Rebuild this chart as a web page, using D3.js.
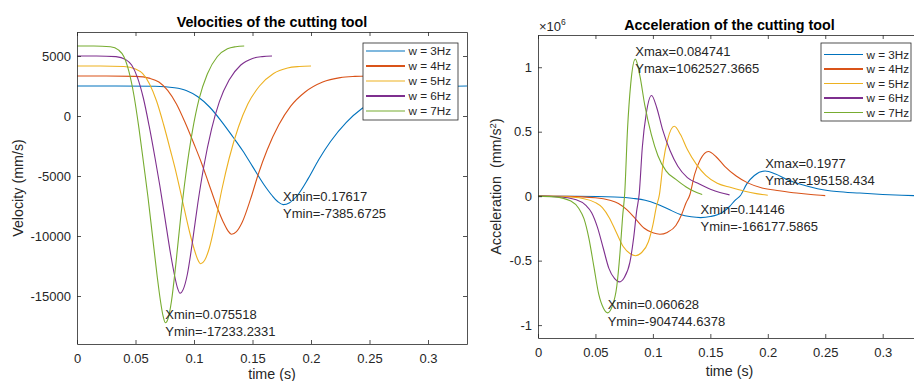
<!DOCTYPE html>
<html>
<head>
<meta charset="utf-8">
<script src="https://cdn.jsdelivr.net/npm/d3@7"></script>
<style>
body { margin: 0; background: #fff; }
svg { font-family: "Liberation Sans", Arial, sans-serif; display: block; }
</style>
</head>
<body>
<svg id="my_svg"></svg>
<script>
const width = 914;
const height = 381;

const seriesNames = ['w = 3Hz', 'w = 4Hz', 'w = 5Hz', 'w = 6Hz', 'w = 7Hz'];
const colors = ['#0072BD', '#D95319', '#EDB120', '#7E2F8E', '#77AC30'];

// time samples (s), one list per frequency
const time3 = [0, 0.0333, 0.0667, 0.0833, 0.0933, 0.1033, 0.1133, 0.1233, 0.1333, 0.1415, 0.15, 0.16, 0.1667, 0.1717, 0.1762, 0.1817, 0.1883, 0.1977, 0.2067, 0.2167, 0.23, 0.2433, 0.26, 0.28, 0.3, 0.3167, 0.3333];
const time4 = [0, 0.025, 0.05, 0.0625, 0.07, 0.0775, 0.085, 0.0925, 0.1, 0.1061, 0.1125, 0.12, 0.125, 0.1288, 0.1321, 0.1363, 0.1413, 0.1483, 0.155, 0.1625, 0.1725, 0.1825, 0.195, 0.21, 0.225, 0.2375, 0.25];
const time5 = [0, 0.02, 0.04, 0.05, 0.056, 0.062, 0.068, 0.074, 0.08, 0.0849, 0.09, 0.096, 0.1, 0.103, 0.1057, 0.109, 0.113, 0.1186, 0.124, 0.13, 0.138, 0.146, 0.156, 0.168, 0.18, 0.19, 0.2];
const time6 = [0, 0.0167, 0.0333, 0.0417, 0.0467, 0.0517, 0.0567, 0.0617, 0.0667, 0.0707, 0.075, 0.08, 0.0833, 0.0858, 0.0881, 0.0908, 0.0942, 0.0988, 0.1033, 0.1083, 0.115, 0.1217, 0.13, 0.14, 0.15, 0.1583, 0.1667];
const time7 = [0, 0.0143, 0.0286, 0.0357, 0.04, 0.0443, 0.0486, 0.0529, 0.0571, 0.0606, 0.0643, 0.0686, 0.0714, 0.0736, 0.0755, 0.0779, 0.0807, 0.0847, 0.0886, 0.0929, 0.0986, 0.1043, 0.1114, 0.12, 0.1286, 0.1357, 0.1429];

// velocity (mm/s)
const vel3 = [2500, 2500, 2475, 2350, 2125, 1600, 750, -425, -1750, -2875, -4200, -5750, -6625, -7150, -7386, -7225, -6625, -5200, -3625, -2125, -550, 600, 1500, 2125, 2400, 2475, 2500];
const vel4 = [3333, 3333, 3300, 3133, 2833, 2133, 1000, -567, -2333, -3833, -5600, -7667, -8833, -9533, -9848, -9633, -8833, -6933, -4833, -2833, -733, 800, 2000, 2833, 3200, 3300, 3333];
const vel5 = [4167, 4167, 4125, 3917, 3542, 2667, 1250, -708, -2917, -4792, -7000, -9583, -11042, -11917, -12309, -12042, -11042, -8667, -6042, -3542, -917, 1000, 2500, 3542, 4000, 4125, 4167];
const vel6 = [5000, 5000, 4950, 4700, 4250, 3200, 1500, -850, -3500, -5750, -8400, -11500, -13250, -14300, -14771, -14450, -13250, -10400, -7250, -4250, -1100, 1200, 3000, 4250, 4800, 4950, 5000];
const vel7 = [5833, 5833, 5775, 5483, 4958, 3733, 1750, -992, -4083, -6708, -9800, -13417, -15458, -16683, -17233, -16858, -15458, -12133, -8458, -4958, -1283, 1400, 3500, 4958, 5600, 5775, 5833];

// acceleration (mm/s^2)
const acc3 = [0, -1000, -7000, -18000, -32000, -60000, -100000, -140000, -160000, -166178, -158000, -128000, -80000, -30000, 5000, 95000, 160000, 195158, 172000, 130000, 88000, 58000, 36000, 24000, 13500, 7000, 2500];
const acc4 = [0, -1778, -12444, -32000, -56889, -106667, -177778, -248889, -284444, -295426, -280889, -227556, -142222, -53333, 8889, 168889, 284444, 346948, 305778, 231111, 156444, 103111, 64000, 42667, 24000, 12444, 4444];
const acc5 = [0, -2778, -19444, -50000, -88889, -166667, -277778, -388889, -444444, -461603, -438889, -355556, -222222, -83333, 13889, 263889, 444444, 542106, 477778, 361111, 244444, 161111, 100000, 66667, 37500, 19444, 6944];
const acc6 = [0, -4000, -28000, -72000, -128000, -240000, -400000, -560000, -640000, -664708, -632000, -512000, -320000, -120000, 20000, 380000, 640000, 780632, 688000, 520000, 352000, 232000, 144000, 96000, 54000, 28000, 10000];
const acc7 = [0, -5444, -38111, -98000, -174222, -326667, -544444, -762222, -871111, -904745, -860222, -696889, -435556, -163333, 27222, 517222, 871111, 1062527, 936444, 707778, 479111, 315778, 196000, 130667, 73500, 38111, 13611];

const timeTicks = [0, 0.05, 0.1, 0.15, 0.2, 0.25, 0.3];
const velTicks = [-15000, -10000, -5000, 0, 5000];
const accTicks = [-1e6, -0.5e6, 0, 0.5e6, 1e6];

// data tips: [x, y, line 1, line 2]
const velTips = [
    [0.17617, -7385.6725, 'Xmin=0.17617', 'Ymin=-7385.6725'],
    [0.075518, -17233.2331, 'Xmin=0.075518', 'Ymin=-17233.2331']
];
const accTips = [
    [0.084741, 1062527.3665, 'Xmax=0.084741', 'Ymax=1062527.3665'],
    [0.1977, 195158.434, 'Xmax=0.1977', 'Ymax=195158.434'],
    [0.14146, -166177.5865, 'Xmin=0.14146', 'Ymin=-166177.5865'],
    [0.060628, -904744.6378, 'Xmin=0.060628', 'Ymin=-904744.6378']
];

const times = [time3, time4, time5, time6, time7];
const textColor = '#262626';

const svg = d3.select('#my_svg')
    .attr('width', width)
    .attr('height', height);

function drawPanel(p) {
    const x = d3.scaleLinear().domain([0, 1 / 3]).range([p.left, p.right]);
    const y = d3.scaleLinear().domain(p.yDomain).range([p.bottom, p.top]);
    const g = svg.append('g').attr('id', p.id);

    g.append('clipPath').attr('id', p.id + '_clip')
        .append('rect')
        .attr('x', p.left).attr('y', p.top)
        .attr('width', p.right - p.left).attr('height', p.bottom - p.top);

    // lines
    const line = d3.line()
        .x(d => x(d[0]))
        .y(d => y(d[1]))
        .curve(d3.curveMonotoneX);
    g.append('g')
        .attr('clip-path', `url(#${p.id}_clip)`)
        .selectAll('path')
        .data(p.values)
        .enter().append('path')
        .attr('d', (vals, i) => line(times[i].map((t, j) => [t, vals[j]])))
        .attr('fill', 'none')
        .attr('stroke', (d, i) => colors[i])
        .attr('stroke-width', 1.1);

    // axes, ticks pointing inward
    const axes = [
        g.append('g').attr('transform', `translate(0,${p.bottom})`)
            .call(d3.axisBottom(x).tickValues(timeTicks).tickFormat(d => String(d))
                .tickSizeInner(-4).tickSizeOuter(0).tickPadding(10)),
        g.append('g').attr('transform', `translate(0,${p.top})`)
            .call(d3.axisTop(x).tickValues(timeTicks).tickFormat('')
                .tickSizeInner(-4).tickSizeOuter(0)),
        g.append('g').attr('transform', `translate(${p.left},0)`)
            .call(d3.axisLeft(y).tickValues(p.yTicks).tickFormat(p.fmt)
                .tickSizeInner(-4).tickSizeOuter(0).tickPadding(6)),
        g.append('g').attr('transform', `translate(${p.right},0)`)
            .call(d3.axisRight(y).tickValues(p.yTicks).tickFormat('')
                .tickSizeInner(-4).tickSizeOuter(0))
    ];
    for (const a of axes) {
        a.attr('font-size', 13).attr('font-family', null);
        a.selectAll('path.domain, line').attr('stroke', textColor).attr('stroke-width', 0.8);
        a.selectAll('text').attr('fill', textColor);
    }

    // title and labels
    g.append('text')
        .attr('x', (p.left + p.right) / 2).attr('y', p.titleY)
        .attr('text-anchor', 'middle')
        .attr('font-size', 14.3).attr('font-weight', 'bold')
        .attr('fill', '#000')
        .text(p.title);

    g.append('text')
        .attr('x', (p.left + p.right) / 2).attr('y', p.xLabelY)
        .attr('text-anchor', 'middle')
        .attr('font-size', 14.3).attr('fill', textColor)
        .text('time (s)');

    const yl = g.append('text')
        .attr('transform', `translate(${p.yLabelX},${(p.top + p.bottom) / 2}) rotate(-90)`)
        .attr('text-anchor', 'middle')
        .attr('font-size', 14.3).attr('fill', textColor)
        .attr('xml:space', 'preserve');
    p.yLabel(yl);

    // data tips
    for (const tip of p.tips) {
        const tx = x(tip[0]);
        const ty = y(tip[1]);
        const t = g.append('text')
            .attr('font-size', 13).attr('fill', textColor);
        t.append('tspan').attr('x', tx).attr('y', ty - 3.5).text(tip[2]);
        t.append('tspan').attr('x', tx).attr('y', ty + 13.5).text(tip[3]);
    }

    // legend
    const lg = g.append('g');
    lg.append('rect')
        .attr('x', p.legend.x).attr('y', p.legend.y)
        .attr('width', p.legend.w).attr('height', p.legend.h)
        .attr('fill', '#fff').attr('stroke', textColor).attr('stroke-width', 0.8);
    seriesNames.forEach((name, i) => {
        const ly = p.legend.y0 + i * p.legend.step;
        lg.append('line')
            .attr('x1', p.legend.x + 3).attr('x2', p.legend.x + 42)
            .attr('y1', ly).attr('y2', ly)
            .attr('stroke', colors[i])
            .attr('stroke-width', i % 2 === 1 ? 2 : 1.1);
        lg.append('text')
            .attr('x', p.legend.x + 45.5).attr('y', ly + 4)
            .attr('font-size', 11.7).attr('fill', textColor)
            .text(name);
    });
}

drawPanel({
    id: 'vel', left: 77, right: 467, top: 32, bottom: 344,
    yDomain: [-19000, 7000], yTicks: velTicks, fmt: d => String(d),
    values: [vel3, vel4, vel5, vel6, vel7], tips: velTips,
    title: 'Velocities of the cutting tool', titleY: 26.5, xLabelY: 378.5, yLabelX: 23,
    yLabel: t => t.text('Velocity (mm/s)'),
    legend: { x: 363, y: 43, w: 95, h: 77, y0: 51, step: 15 }
});

drawPanel({
    id: 'acc', left: 538, right: 921, top: 35, bottom: 338,
    yDomain: [-1.1e6, 1.25e6], yTicks: accTicks, fmt: d => String(d / 1e6),
    values: [acc3, acc4, acc5, acc6, acc7], tips: accTips,
    title: 'Acceleration of the cutting tool', titleY: 29.5, xLabelY: 376, yLabelX: 500.5,
    yLabel: t => {
        t.append('tspan').text('Acceleration  (mm/s');
        t.append('tspan').attr('font-size', 9.5).attr('dy', -5).text('2');
        t.append('tspan').attr('dy', 5).text(')');
    },
    legend: { x: 821, y: 43, w: 90, h: 78, y0: 54.5, step: 14.5 }
});

// exponent label of the acceleration axis
const expo = svg.append('text')
    .attr('x', 539).attr('y', 31)
    .attr('font-size', 13).attr('fill', textColor);
expo.append('tspan').text('×10');
expo.append('tspan').attr('font-size', 8.5).attr('dy', -6).text('6');
</script>
</body>
</html>
